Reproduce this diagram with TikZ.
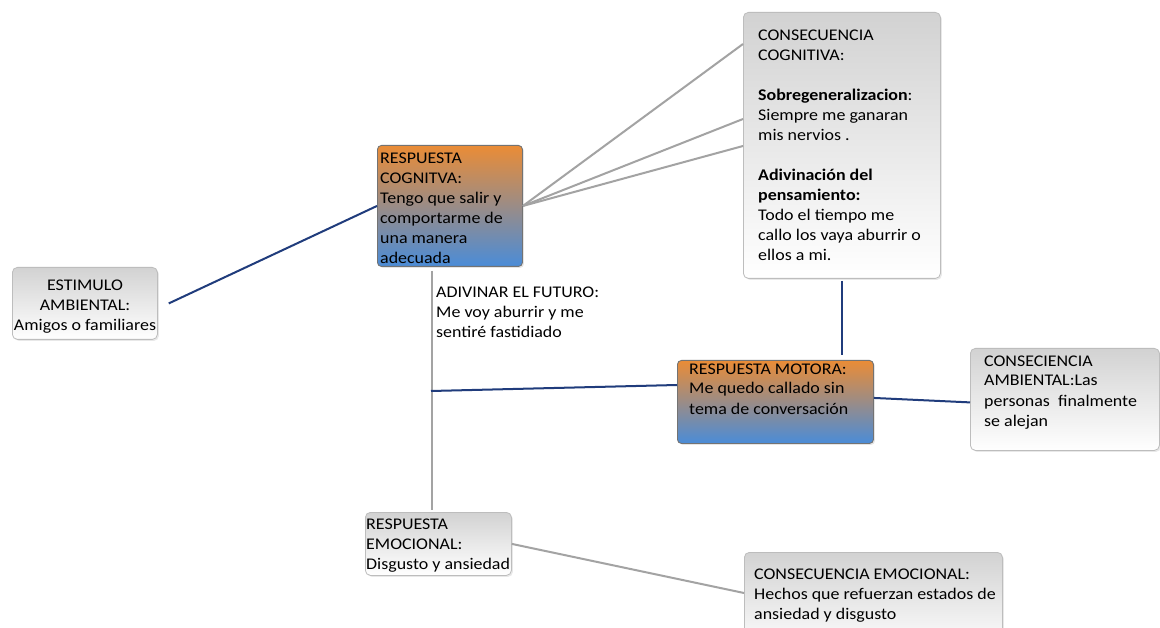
\documentclass[tikz,border=0pt]{standalone}
\usepackage{fontspec}
\setmainfont{Carlito}[FakeStretch=1.1]
\usetikzlibrary{calc,shadows}
\definecolor{navyline}{HTML}{203C7C}
\definecolor{greyline}{HTML}{A3A3A3}
\definecolor{boxedge}{HTML}{BDBDBD}
\definecolor{greytop}{HTML}{D2D2D2}
\definecolor{orangetop}{HTML}{EA8C36}
\definecolor{bluebottom}{HTML}{4A8CD8}
\definecolor{midtone}{HTML}{A89A9E}
\tikzset{
  greybox/.style={draw=boxedge, line width=0.8pt, rounded corners=5pt,
    top color=greytop, bottom color=white, inner sep=0pt, anchor=north west,
    drop shadow={opacity=0.18, shadow xshift=1.5pt, shadow yshift=-1.5pt}},
  warmbox/.style={draw=black!55, line width=0.9pt, rounded corners=4pt,
    top color=orangetop, middle color=midtone, bottom color=bluebottom,
    inner sep=0pt, anchor=north west,
    drop shadow={opacity=0.2, shadow xshift=1.5pt, shadow yshift=-1.5pt}},
  navy/.style={draw=navyline, line width=2pt},
  grey/.style={draw=greyline, line width=2pt},
  % multi-line texts are placed by the baseline of their last line
  txt/.style={inner sep=0pt, align=left, anchor=base west,
    font=\fontsize{16.3}{20}\selectfont},
}
\begin{document}
\begin{tikzpicture}[x=1pt, y=-1pt]
\useasboundingbox[fill=white] (0,0) rectangle (1160,628);

% boxes
\node[greybox, minimum width=197pt, minimum height=266pt] (cc) at (743,12) {};
\node[greybox, minimum width=145pt, minimum height=72pt] (stim) at (12,267) {};
\node[greybox, minimum width=189pt, minimum height=102pt] (amb) at (970,348) {};
\node[greybox, minimum width=146pt, minimum height=63pt] (emo) at (365,512) {};
\node[greybox, minimum width=258pt, minimum height=100pt] (emoc) at (744,552) {};
\node[warmbox, minimum width=145pt, minimum height=121pt] (cog) at (377,145) {};
\node[warmbox, minimum width=196pt, minimum height=83pt] (mot) at (677,360) {};

% connectors
\coordinate (fork) at (431,391);
\draw[navy] ($(stim.east)+(11,0)$) -- (cog.west);
\draw[grey] (cog.east) -- ($(cc.north west)+(0,32)$);
\draw[grey] (cog.east) -- ($(cc.north west)+(0,107)$);
\draw[grey] (cog.east) -- ($(cc.north west)+(0,134)$);
\draw[grey] ($(cog.south west)+(55,4)$) -- ($(emo.north west)+(67,-2)$);
\draw[navy] (fork) -- ($(mot.north west)+(0,25)$);
\draw[navy] ($(cc.south)+(0,2)$) -- ($(cc.south |- mot.north)+(0,-5)$);
\draw[navy] ($(mot.east)+(0,-4)$) -- ($(amb.west)+(0,3)$);
\draw[grey] (emo.east) -- ($(emoc.north west)+(0,41)$);

% texts
\node[txt] (cct) at (758,260.7) {CONSECUENCIA\\COGNITIVA:\\[20pt]
  \textbf{Sobregeneralizacion}:\\Siempre me ganaran\\mis nervios .\\[20pt]
  \textbf{Adivinación del}\\\textbf{pensamiento:}\\Todo el tiempo me\\
  callo los vaya aburrir o\\ellos a mi.};
\node[txt, align=center, anchor=base] (stimt) at (85,331) {ESTIMULO\\AMBIENTAL:\\Amigos o familiares};
\node[txt] (cogt) at (380,264) {RESPUESTA\\COGNITVA:\\Tengo que salir y\\comportarme de\\una manera\\adecuada};
\node[txt] (mott) at (689,414) {RESPUESTA MOTORA:\\Me quedo callado sin\\tema de conversación};
\node[txt] (ambt) at (984,426) {CONSECIENCIA\\AMBIENTAL:Las\\personas\ \ finalmente\\se alejan};
\node[txt] (emot) at (366,569) {RESPUESTA\\EMOCIONAL:\\Disgusto y ansiedad};
\node[txt] (emoct) at (754,619) {CONSECUENCIA EMOCIONAL:\\Hechos que refuerzan estados de\\ansiedad y disgusto};
\node[txt] (futt) at (436,338) {ADIVINAR EL FUTURO:\\Me voy aburrir y me\\sentiré fastidiado};
\end{tikzpicture}
\end{document}
